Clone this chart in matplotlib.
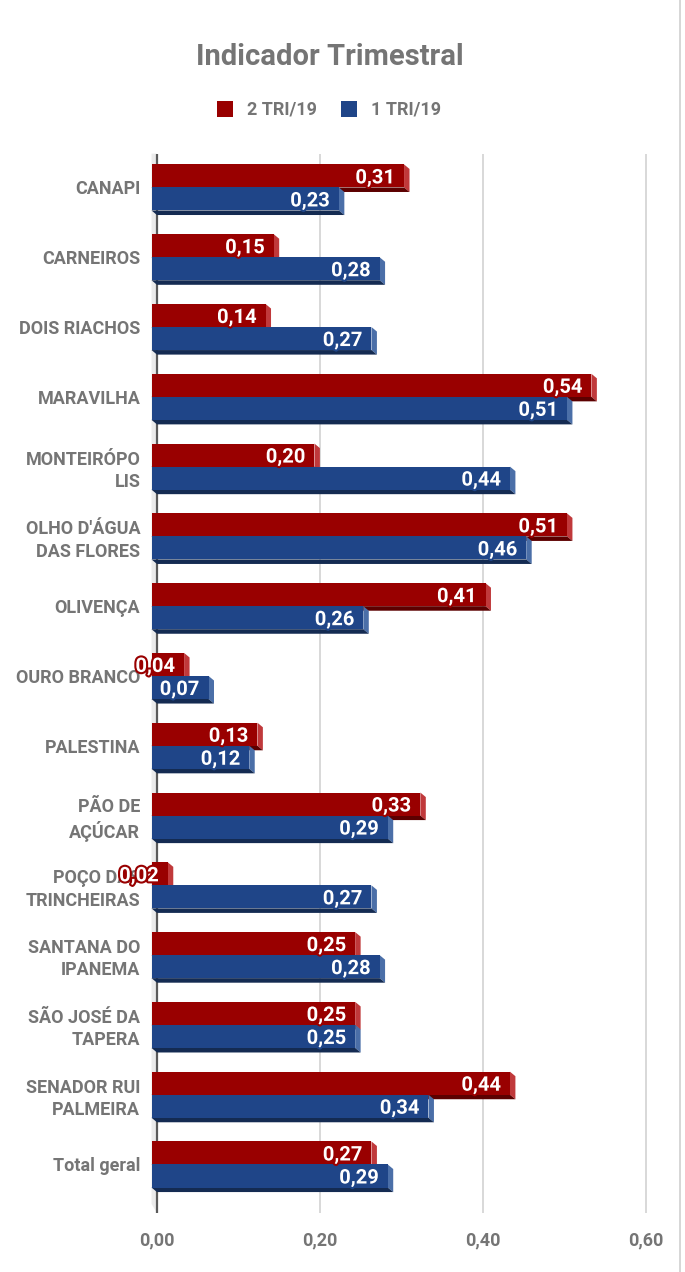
import numpy as np
import matplotlib
matplotlib.use("Agg")
import matplotlib.pyplot as plt
from matplotlib.patches import Polygon, Rectangle
import matplotlib.patheffects as pe

plt.rcParams['font.family'] = ['Roboto', 'DejaVu Sans']
plt.rcParams['font.weight'] = 'bold'

categories = ["CANAPI", "CARNEIROS", "DOIS RIACHOS", "MARAVILHA", "MONTEIRÓPO\nLIS",
              "OLHO D'ÁGUA\nDAS FLORES", "OLIVENÇA", "OURO BRANCO", "PALESTINA",
              "PÃO DE\nAÇÚCAR", "POÇO DAS\nTRINCHEIRAS", "SANTANA DO\nIPANEMA",
              "SÃO JOSÉ DA\nTAPERA", "SENADOR RUI\nPALMEIRA", "Total geral"]
tri2 = [0.31, 0.15, 0.14, 0.54, 0.20, 0.51, 0.41, 0.04, 0.13, 0.33, 0.02, 0.25, 0.25, 0.44, 0.27]
tri1 = [0.23, 0.28, 0.27, 0.51, 0.44, 0.46, 0.26, 0.07, 0.12, 0.29, 0.27, 0.28, 0.25, 0.34, 0.29]
series_names = ["2 TRI/19", "1 TRI/19"]
xticks = [0.0, 0.2, 0.4, 0.6]

# front, side, bottom colours
red = ("#990000", "#c0393b", "#5c0000")
blue = ("#1f4588", "#4b6fa8", "#142b52")
grey = "#757575"

W, H = 685, 1272
fig = plt.figure(figsize=(W / 100, H / 100), dpi=100)
ax = fig.add_axes([147.2 / W, 1 - 1213 / H, 499.8 / W + 0.004, (1213 - 153.6) / H])

n = len(categories)
y = np.arange(n)
bh = 0.33
d = 0.0067   # depth in x units
e = 0.065    # depth in category units

ax.set_xlim(-0.012, 0.6049)
ax.set_ylim(14.63, -0.55)

for xt in xticks[1:]:
    ax.axvline(xt, color="#d6d6d6", lw=1.3, zorder=0)
ax.axvline(0, color="#5a5a5a", lw=1.6, zorder=1)

# left wall
top, bot = -0.55, 14.63
ax.add_patch(Polygon([(-d, top), (0, top), (0, bot), (-d, bot - 2 * e)],
                     closed=True, fc="#ebebeb", ec="none", zorder=0.5, clip_on=False))


def draw_series(vals, offset, cols):
    yc = y + offset
    ax.barh(yc - e, vals, height=bh, left=-d, color=cols[0], zorder=3)
    for v, c in zip(vals, yc):
        y0, y1 = c - bh / 2, c + bh / 2
        side = [(v - d, y0 - e), (v, y0), (v, y1), (v - d, y1 - e)]
        bottom = [(-d, y1 - e), (v - d, y1 - e), (v, y1), (0, y1)]
        ax.add_patch(Polygon(side, closed=True, fc=cols[1], ec="none", zorder=2))
        ax.add_patch(Polygon(bottom, closed=True, fc=cols[2], ec="none", zorder=2))
        ax.annotate(f"{v:.2f}".replace(".", ","), xy=(v - d, c - e), xytext=(-6.5, 0),
                    textcoords="offset points", ha="right", va="center_baseline",
                    color="white", fontsize=14.5, fontweight="bold", zorder=5,
                    path_effects=[pe.withStroke(linewidth=3, foreground=cols[0])])


draw_series(tri2, -bh / 2, red)
draw_series(tri1, bh / 2, blue)

ax.set_yticks(y - e)
ax.set_yticklabels(categories, color=grey, fontsize=13, fontweight="bold",
                   linespacing=1.3)
ax.set_xticks(xticks)
ax.set_xticklabels([f"{t:.2f}".replace(".", ",") for t in xticks], color=grey,
                   fontsize=13, fontweight="bold")
ax.tick_params(axis="y", length=0, pad=5)
ax.tick_params(axis="x", length=0, pad=13)
for s in ax.spines.values():
    s.set_visible(False)

# title and legend
fig.text(330 / W, 1 - 57 / H, "Indicador Trimestral", ha="center", va="center",
         color=grey, fontsize=21, fontweight="bold")
ly = 1 - 109 / H
sq = 16
for x0, name, col in [(217, series_names[0], red[0]), (341, series_names[1], blue[0])]:
    fig.patches.append(Rectangle((x0 / W, ly - sq / 2 / H), sq / W, sq / H,
                                 transform=fig.transFigure, fc=col, ec="none"))
    fig.text((x0 + 30) / W, ly, name, ha="left", va="center", color=grey,
             fontsize=13, fontweight="bold")

# right border
fig.add_artist(plt.Line2D([680 / W, 680 / W], [0, 1], color="#d0d0d0", lw=1.2,
                          transform=fig.transFigure))

fig.savefig("out.png", dpi=100)
